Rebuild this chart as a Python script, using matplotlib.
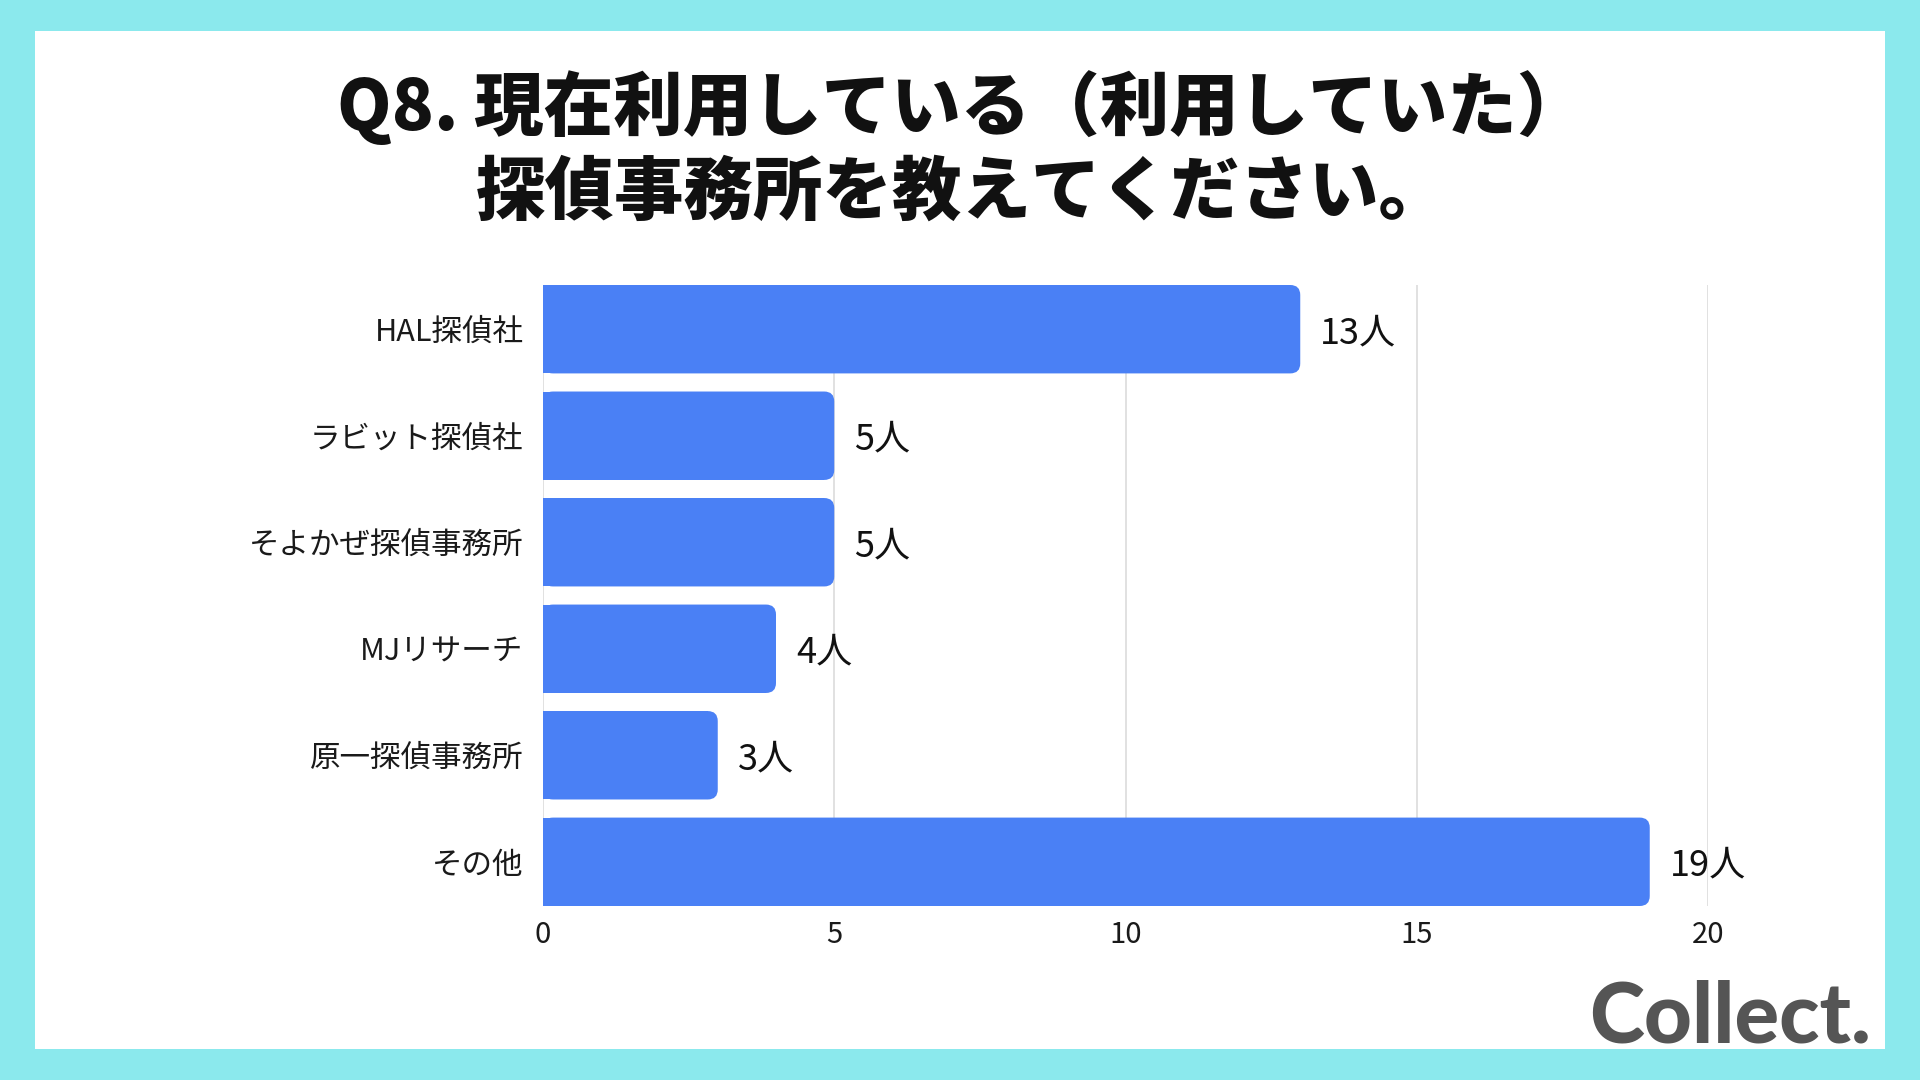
import matplotlib.pyplot as plt
from matplotlib.patches import FancyBboxPatch, Rectangle

plt.rcParams['font.family'] = ['Noto Sans CJK JP', 'DejaVu Sans']

categories = ["HAL探偵社", "ラビット探偵社", "そよかぜ探偵事務所", "MJリサーチ", "原一探偵事務所", "その他"]
counts = [13, 5, 5, 4, 3, 19]
xticks = [0, 5, 10, 15, 20]
title_lines = ["Q8. 現在利用している（利用していた）", "探偵事務所を教えてください。"]

bar_color = "#4a80f5"
border_color = "#8be9ed"

fig = plt.figure(figsize=(19.2, 10.8), dpi=100)
fig.patch.set_facecolor(border_color)
fig.patches.append(Rectangle((35 / 1920, 31 / 1080), 1850 / 1920, 1018 / 1080,
                             transform=fig.transFigure, facecolor="white",
                             edgecolor="none", zorder=-10))

ax = fig.add_axes([543 / 1920, 174 / 1080, 1165 / 1920, 621 / 1080])
ax.set_facecolor("none")

bar_h = 0.83
ax.set_xlim(0, 20)
ax.set_ylim(len(categories) - 1 + bar_h / 2, -bar_h / 2)

# pixels per data unit, to keep the rounded corners circular
px_x = 1165 / 20
px_y = 621 / (len(categories) - 1 + bar_h)
r = 10 / px_x
for i, v in enumerate(counts):
    y0 = i - bar_h / 2
    ax.add_patch(FancyBboxPatch((0, y0), v, bar_h,
                                boxstyle="round,pad=0,rounding_size=%f" % r,
                                mutation_aspect=px_x / px_y,
                                facecolor=bar_color, edgecolor="none", zorder=2))
    ax.add_patch(Rectangle((0, y0), v - r, bar_h, facecolor=bar_color,
                           edgecolor="none", zorder=2))
    ax.text(v + 20 / px_x, i + 4 / px_y, "%d人" % v, va="center", ha="left",
            fontsize=26, color="#111111", zorder=3)

ax.set_yticks(range(len(categories)))
ax.set_yticklabels(categories, fontsize=22, color="#1a1a1a")
ax.set_xticks(xticks)
ax.set_xticklabels([str(t) for t in xticks], fontsize=21, color="#1a1a1a")
ax.tick_params(axis="y", length=0, pad=14)
ax.tick_params(axis="x", length=0, pad=10)
ax.grid(axis="x", color="#dcdcdc", linewidth=1.2, zorder=1)
ax.set_axisbelow(True)
for s in ax.spines.values():
    s.set_visible(False)

fig.text(0.501, 1 - 108 / 1080, title_lines[0], ha="center", va="center",
         fontsize=50, fontweight="heavy", color="#111111")
fig.text(0.501, 1 - 193 / 1080, title_lines[1], ha="center", va="center",
         fontsize=50, fontweight="heavy", color="#111111")

fig.text(1871 / 1920, 1 - 1018 / 1080, "Collect.", ha="right", va="center",
         fontsize=60, fontweight="black", family="Lato", color="#555555")

fig.savefig("out.png", dpi=100, facecolor=fig.get_facecolor())
